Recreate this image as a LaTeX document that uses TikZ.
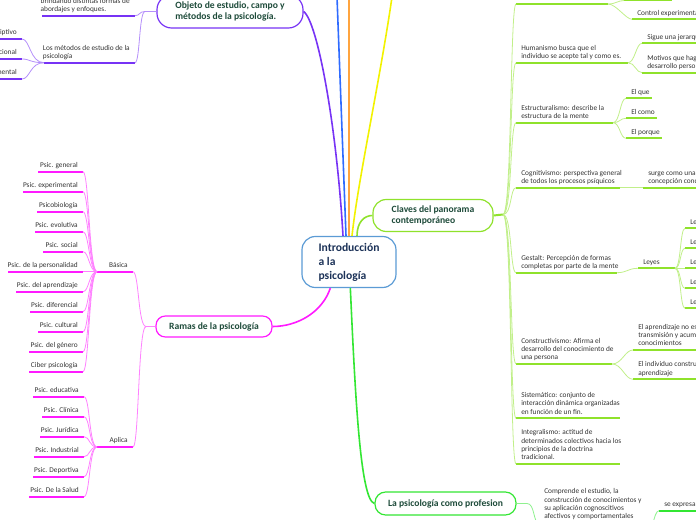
\documentclass[tikz,border=0pt]{standalone}
\usepackage{fontspec}
\setmainfont{Carlito}
\usepackage{xcolor}
\definecolor{mmcentre}{HTML}{5B9BD5}
\definecolor{mmpurple}{HTML}{7733F5}
\definecolor{mmblue}{HTML}{2F6BFF}
\definecolor{mmorange}{HTML}{FFA43F}
\definecolor{mmyellow}{HTML}{F2F200}
\definecolor{mmlime}{HTML}{8FE22B}
\definecolor{mmgreen}{HTML}{33E633}
\definecolor{mmmagenta}{HTML}{FF1AFF}
\definecolor{titlegreen}{HTML}{1E4B3A}
\definecolor{titleblue}{HTML}{1C3258}
\definecolor{leafgrey}{HTML}{333333}
\newcommand{\leaffont}{\fontsize{5.5}{6.3}\selectfont}
\newcommand{\topicfont}{\fontsize{7.2}{8.4}\selectfont\bfseries}
\newcommand{\centrefont}{\fontsize{8.7}{10.5}\selectfont\bfseries}
\tikzset{
  topic/.style={draw=#1, line width=0.9pt, fill=white, align=left, inner sep=0pt,
    font=\topicfont, text=titlegreen},
  branch/.style={draw=#1, line width=1.2pt},
  uline/.style={draw=#1, line width=1.5pt},
  conn/.style={draw=#1!55, line width=0.6pt},
  leaf/.style={font=\leaffont, text=leafgrey, inner sep=0pt, align=left,
    execute at end node=\strut},
}
% leaf with text on the left end of its underline: name, x from, x to, y, colour, text
\newcommand{\leafR}[6]{%
  \coordinate (#1-w) at (#2,#4);
  \coordinate (#1-e) at (#3,#4);
  \draw[uline=#5] (#1-w) -- (#1-e);
  \node[leaf, anchor=south west] (#1) at ([shift={(5,-1.3)}]#1-w) {#6};}
% leaf with text set against the right end of its underline
\newcommand{\leafL}[6]{%
  \coordinate (#1-w) at (#2,#4);
  \coordinate (#1-e) at (#3,#4);
  \draw[uline=#5] (#1-w) -- (#1-e);
  \node[leaf, anchor=south east] (#1) at ([shift={(-5,-1.3)}]#1-e) {#6};}

\begin{document}
\begin{tikzpicture}[x=0.75pt,y=-0.75pt]
  \useasboundingbox (0,0) rectangle (696,520);

  % main topics
  \node[topic=mmcentre, minimum width=70.5pt, minimum height=38.25pt,
    rounded corners=10pt, font=\centrefont, text=titleblue] (intro) at (349,262)
    {Introducción\\a la\\psicología};
  \node[topic=mmpurple, minimum width=109.5pt, minimum height=24.75pt,
    rounded corners=11pt] (objeto) at (230,11.5)
    {Objeto de estudio, campo y\\métodos de la psicología.};
  \node[topic=mmlime, minimum width=90pt, minimum height=24pt,
    rounded corners=10pt] (claves) at (433,215.5)
    {Claves del panorama\\contemporáneo};
  \node[topic=mmmagenta, minimum width=87pt, minimum height=15.75pt,
    rounded corners=7pt] (ramas) at (214,326.5) {Ramas de la psicología};
  \node[topic=mmgreen, minimum width=105.75pt, minimum height=17.25pt,
    rounded corners=8pt] (prof) at (445.5,503.5) {La psicología como profesion};

  % branches out of the centre
  \coordinate (bluetop) at (337,-3);
  \coordinate (orangetop) at (349,-3);
  \coordinate (yellowtop) at (392,-3);
  \draw[branch=mmpurple] (objeto.east) .. controls (318,22) and (337,130) .. ([xshift=-4.5pt]intro.north);
  \draw[branch=mmblue] (bluetop) -- ([xshift=-2.25pt]intro.north);
  \draw[branch=mmorange] (orangetop) -- (intro.north);
  \draw[branch=mmyellow] (yellowtop) .. controls (380,80) and (358,180) .. ([xshift=2.25pt]intro.north);
  \draw[branch=mmlime] ([xshift=6pt]intro.north) .. controls +(0,-14) and +(-8,0) .. (claves.west);
  \draw[branch=mmmagenta] ([xshift=-14pt]intro.south) .. controls +(-8,24) and +(25,0) .. (ramas.east);
  \draw[branch=mmgreen] ([xshift=1pt]intro.south) .. controls (355,390) and (360,500) .. (prof.west);

  % Objeto de estudio
  \leafL{brin}{42}{135}{15.7}{mmpurple}{brindando distintas formas de\\abordajes y enfoques.}
  \leafL{met}{44}{135}{62.7}{mmpurple}{Los métodos de estudio de la\\psicología}
  \leafL{desc}{-40}{22}{39}{mmpurple}{Descriptivo}
  \leafL{corr}{-40}{22}{59}{mmpurple}{Correlacional}
  \leafL{expm}{-40}{22}{79}{mmpurple}{Experimental}
  \coordinate (obj-hub) at (145,11.5);
  \draw[conn=mmpurple] (objeto.west) -- (obj-hub) .. controls +(-6,0) and +(5,0) .. (brin-e);
  \draw[conn=mmpurple] (obj-hub) .. controls +(-6,0) and +(5,0) .. (met-e);
  \foreach \m in {desc,corr,expm}
    \draw[conn=mmpurple] (met-w) .. controls +(-14,0) and +(8,0) .. (\m-e);

  % Ramas de la psicologia
  \leafL{bas}{97}{133}{271.7}{mmmagenta}{Básica}
  \leafL{apl}{97}{133}{447}{mmmagenta}{Aplica}
  \coordinate (ram-hub) at (146,326.5);
  \draw[conn=mmmagenta] (ramas.west) -- (ram-hub) .. controls +(-8,0) and +(6,0) .. (bas-e);
  \draw[conn=mmmagenta] (ram-hub) .. controls +(-8,0) and +(6,0) .. (apl-e);
  \foreach \txt/\xl [count=\k from 0] in {Psic. general/38, Psic. experimental/23,
      Psicobiología/37, Psic. evolutiva/35, Psic. social/43, Psic. de la personalidad/8,
      Psic. del aprendizaje/16, Psic. diferencial/30, Psic. cultural/38,
      Psic. del género/29, Ciber psicología/29} {
    \leafL{b\k}{\xl}{83}{171.7+20*\k}{mmmagenta}{\txt}
    \draw[conn=mmmagenta] (bas-w) .. controls +(-8,0) and +(6,0) .. (b\k-e);
  }
  \foreach \txt/\xl [count=\k from 0] in {Psic. educativa/33, Psic. Clínica/42,
      Psic. Jurídica/40, Psic. Industrial/34, Psic. Deportiva/33, Psic. De la Salud/29} {
    \leafL{a\k}{\xl}{84}{396.7+20*\k}{mmmagenta}{\txt}
    \draw[conn=mmmagenta] (apl-w) .. controls +(-8,0) and +(6,0) .. (a\k-e);
  }

  % Claves del panorama contemporaneo
  \coordinate (ctop-w) at (516,4);
  \coordinate (ctop-e) at (608,4);
  \draw[uline=mmlime] (ctop-w) -- (ctop-e);
  \coordinate (ctopa-w) at (624,0.5);
  \draw[uline=mmlime] (ctopa-w) -- (672,0.5);
  \leafR{ctrl}{632}{700}{19.3}{mmlime}{Control experimental}
  \leafR{hum}{516}{628}{62.7}{mmlime}{Humanismo busca que el\\individuo se acepte tal y como es.}
  \leafR{jer}{642}{700}{43.3}{mmlime}{Sigue una jerarquía}
  \leafR{mot}{642}{700}{72.7}{mmlime}{Motivos que hagan\\desarrollo personal}
  \leafR{est}{516}{613}{122.7}{mmlime}{Estructuralismo: describe la\\estructura de la mente}
  \leafR{que}{626}{652}{98.3}{mmlime}{El que}
  \leafR{como}{626}{657}{118.3}{mmlime}{El como}
  \leafR{porq}{626}{662}{138.3}{mmlime}{El porque}
  \leafR{cog}{516}{620}{187.7}{mmlime}{Cognitivismo: perspectiva general\\de todos los procesos psíquicos}
  \leafR{surge}{643}{700}{187.7}{mmlime}{surge como una alternativa a la\\concepción conductista}
  \leafR{ges}{516}{617}{272.7}{mmlime}{Gestalt: Percepción de formas\\completas por parte de la mente}
  \leafR{ley}{638}{675}{268.3}{mmlime}{Leyes}
  \foreach \k in {1,...,5}
    \leafR{ley\k}{685}{700}{208.3+20*\k}{mmlime}{Ley};
  \leafR{cons}{516}{612}{364}{mmlime}{Constructivismo: Afirma el\\desarrollo del conocimiento de\\una persona}
  \leafR{apr}{633}{700}{350}{mmlime}{El aprendizaje no es solo\\transmisión y acumulación de\\conocimientos}
  \leafR{indv}{633}{700}{379.3}{mmlime}{El individuo construye su\\aprendizaje}
  \leafR{sis}{516}{620}{418.3}{mmlime}{Sistemático: conjunto de\\interacción dinámica organizadas\\en función de un fin.}
  \leafR{int}{516}{620}{464}{mmlime}{Integralismo: actitud de\\determinados colectivos hacia los\\principios de la doctrina\\tradicional.}
  \coordinate (clv-hub) at (503,214.5);
  \draw[uline=mmlime] (claves.east) -- (clv-hub);
  \foreach \c in {ctop,hum,est,cog,ges,cons,sis,int}
    \draw[conn=mmlime] (clv-hub) .. controls +(9,0) and +(-6,0) .. (\c-w);
  \foreach \c in {ctopa,ctrl}
    \draw[conn=mmlime] (ctop-e) .. controls +(8,0) and +(-6,0) .. (\c-w);
  \foreach \c in {jer,mot}
    \draw[conn=mmlime] (hum-e) .. controls +(7,0) and +(-6,0) .. (\c-w);
  \foreach \c in {que,como,porq}
    \draw[conn=mmlime] (est-e) .. controls +(7,0) and +(-6,0) .. (\c-w);
  \draw[conn=mmlime] (cog-e) .. controls +(8,0) and +(-8,0) .. (surge-w);
  \draw[conn=mmlime] (ges-e) .. controls +(10,0) and +(-10,0) .. (ley-w);
  \foreach \k in {1,...,5}
    \draw[conn=mmlime] (ley-e) .. controls +(6,0) and +(-5,0) .. (ley\k-w);
  \foreach \c in {apr,indv}
    \draw[conn=mmlime] (cons-e) .. controls +(10,0) and +(-8,0) .. (\c-w);

  % La psicologia como profesion
  \leafR{comp}{539}{650}{523}{mmgreen}{Comprende el estudio, la\\construcción de conocimientos y\\su aplicación cognoscitivos\\afectivos y comportamentales}
  \leafR{expr}{659}{700}{510.7}{mmgreen}{se expresa en}
  \coordinate (prof-hub) at (527,503.5);
  \coordinate (expr-src) at (646,540);
  \draw[conn=mmgreen] (prof.east) -- (prof-hub) .. controls +(8,0) and +(-6,0) .. (comp-w);
  \draw[conn=mmgreen] (expr-src) .. controls +(6,0) and +(-6,0) .. (expr-w);
\end{tikzpicture}
\end{document}
